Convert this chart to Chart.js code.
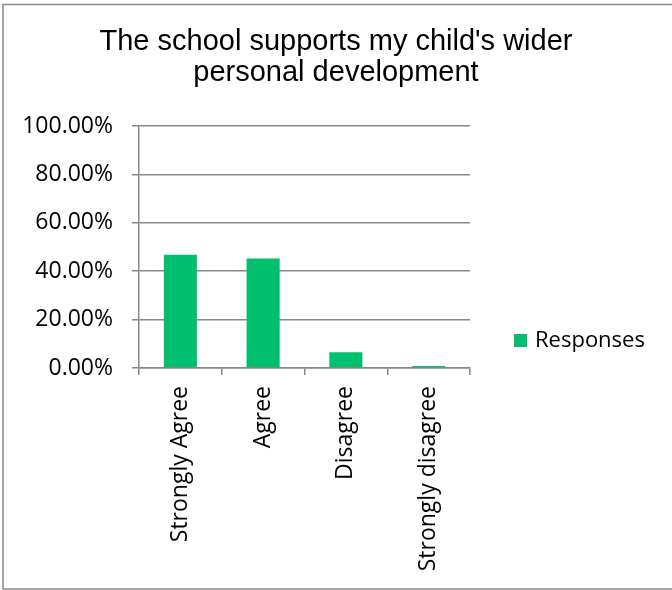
<!DOCTYPE html>
<html>
<head>
<meta charset="utf-8">
<script src="https://cdn.jsdelivr.net/npm/chart.js@4/dist/chart.umd.min.js"></script>
<style>
  html, body { margin: 0; padding: 0; background: #ffffff; }
  #wrap { width: 672px; height: 590px; position: relative; }
</style>
</head>
<body>
<div id="wrap"><canvas id="c" width="672" height="590"></canvas></div>
<script>
const categories = ["Strongly Agree", "Agree", "Disagree", "Strongly disagree"];
const responses = [46.8, 45.2, 6.5, 0.8];
const seriesName = "Responses";
const titleLines = ["The school supports my child's wider", "personal development"];
const yTicks = [0, 20, 40, 60, 80, 100];

const GREEN = '#00C06F';
const GRID = '#878787';
const LABEL_FONT = "'Open Sans', sans-serif";

const frame = {
  id: 'frame',
  afterDraw(chart) {
    const ctx = chart.ctx;
    ctx.save();
    ctx.strokeStyle = '#8a8a8a';
    ctx.lineWidth = 1.5;
    ctx.strokeRect(3, 4.5, 700, 584.5);
    // legend
    const ds = chart.data.datasets[0];
    ctx.fillStyle = ds.backgroundColor;
    ctx.fillRect(514, 334, 13, 13);
    ctx.fillStyle = '#000000';
    ctx.font = "22px " + LABEL_FONT;
    ctx.textBaseline = 'middle';
    ctx.textAlign = 'left';
    ctx.fillText(ds.label, 535, 341);
    ctx.restore();
  }
};

new Chart(document.getElementById('c'), {
  type: 'bar',
  data: {
    labels: categories,
    datasets: [{
      label: seriesName,
      data: responses,
      backgroundColor: GREEN,
      borderWidth: 0,
      barPercentage: 0.4,
      categoryPercentage: 1.0
    }]
  },
  options: {
    responsive: false,
    animation: false,
    devicePixelRatio: 1,
    layout: { padding: 0 },
    plugins: {
      legend: { display: false },
      tooltip: { enabled: false },
      title: {
        display: true,
        text: titleLines,
        color: '#000000',
        font: { family: "'Liberation Sans', Arial, sans-serif", size: 29, weight: 'normal', lineHeight: 1.086 },
        padding: { top: 26, bottom: 37 }
      }
    },
    scales: {
      x: {
        grid: { display: true, offset: true, drawOnChartArea: false, color: GRID, lineWidth: 1.5, tickLength: 7, tickColor: GRID },
        border: { display: true, color: GRID, width: 1.5 },
        ticks: {
          color: '#000000',
          font: { family: LABEL_FONT, size: 23 },
          minRotation: 90, maxRotation: 90,
          padding: 11,
          autoSkip: false
        },
        afterFit(scale) { scale.height = 222; }
      },
      y: {
        min: 0, max: 100,
        afterBuildTicks(scale) { scale.ticks = yTicks.map(v => ({ value: v })); },
        grid: { color: GRID, lineWidth: 1.5, tickLength: 7, tickColor: GRID },
        border: { display: true, color: GRID, width: 1.5 },
        ticks: {
          color: '#000000',
          font: { family: LABEL_FONT, size: 23 },
          padding: 19,
          callback: v => v.toFixed(2) + '%'
        },
        afterFit(scale) { scale.width = 139; }
      },
      legendSpace: {
        position: 'right',
        min: 0, max: 1,
        display: true,
        grid: { display: false, drawTicks: false },
        border: { display: false },
        ticks: { display: false },
        afterFit(scale) { scale.width = 202; }
      }
    }
  },
  plugins: [frame]
});
</script>
</body>
</html>
